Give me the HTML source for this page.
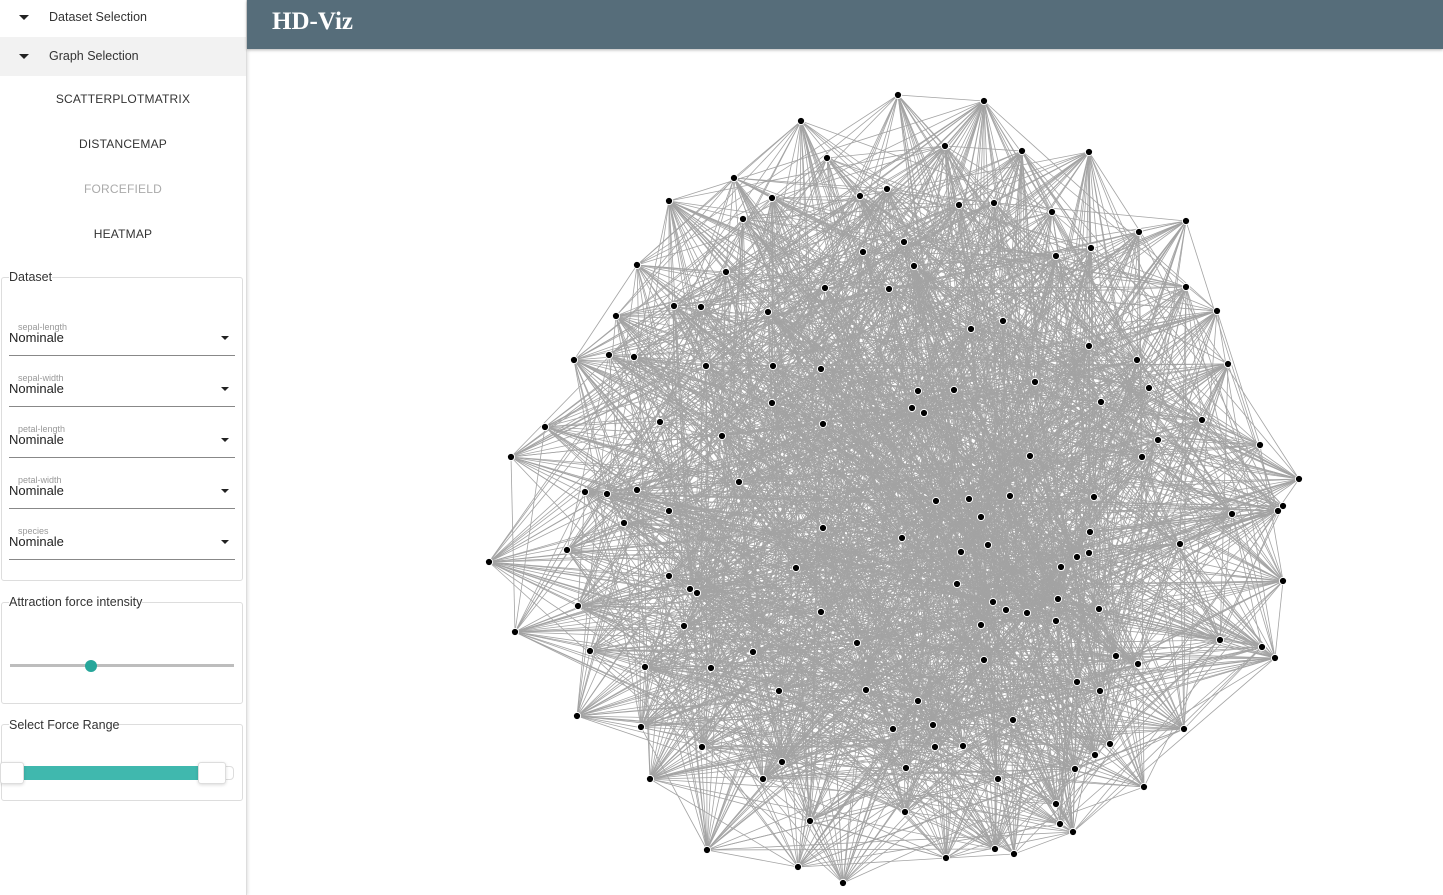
<!DOCTYPE html>
<html><head><meta charset="utf-8"><title>HD-Viz</title>
<style>
*{box-sizing:border-box}
body{margin:0;width:1443px;height:895px;overflow:hidden;font-family:"Liberation Sans",sans-serif;background:#fff;position:relative}
#sidebar{position:absolute;left:0;top:0;width:247px;height:895px;background:#fff;border-right:1px solid #ddd;box-shadow:1px 0 3px rgba(0,0,0,0.12)}
.acc{position:absolute;left:0;width:246px;height:39px;font-size:12.5px;color:#333;line-height:39px}
.acc .tri{position:absolute;left:19px;top:17px;width:0;height:0;border-left:5px solid transparent;border-right:5px solid transparent;border-top:5px solid #222}
.acc span{position:absolute;left:49px}
.nav{position:absolute;left:0;width:246px;text-align:center;font-size:12px;color:#333;letter-spacing:0.2px}
fieldset{position:absolute;left:1px;width:242px;border:1px solid #ddd;border-radius:3px;margin:0;padding:0}
.leg{position:absolute;left:9px;font-size:12.5px;color:#333;background:#fff}
.sel{position:absolute;left:9px;width:226px;height:51px;border-bottom:1px solid #888}
.sel .lab{position:absolute;left:9px;top:17px;font-size:9px;color:#999}
.sel .val{position:absolute;left:0;font-size:13px;color:#222}
.sel .arr{position:absolute;right:6px;width:0;height:0;border-left:4.5px solid transparent;border-right:4.5px solid transparent;border-top:4.5px solid #222}
#header{position:absolute;left:247px;top:0;width:1196px;height:49px;background:#566d7a;box-shadow:0 1px 3px rgba(0,0,0,0.3)}
#header h1{margin:0;position:absolute;left:25px;top:8px;font-family:"Liberation Serif","DejaVu Serif",serif;font-weight:bold;font-size:25px;color:#fff}
#graph{position:absolute;left:0;top:0}
</style></head><body>
<div id="sidebar">
  <div class="acc" style="top:-2px"><div class="tri"></div><span>Dataset Selection</span></div>
  <div class="acc" style="top:37px;background:#f2f2f2"><div class="tri"></div><span>Graph Selection</span></div>
  <div class="nav" style="top:92px">SCATTERPLOTMATRIX</div>
  <div class="nav" style="top:137px">DISTANCEMAP</div>
  <div class="nav" style="top:182px;color:#aaa">FORCEFIELD</div>
  <div class="nav" style="top:227px">HEATMAP</div>
  <fieldset style="top:277px;height:304px"></fieldset>
  <div class="leg" style="top:270px">Dataset</div>
  <div class="sel" style="top:305px"><div class="lab">sepal-length</div><div class="val" style="top:25px">Nominale</div><div class="arr" style="top:31px"></div></div>
  <div class="sel" style="top:356px"><div class="lab">sepal-width</div><div class="val" style="top:25px">Nominale</div><div class="arr" style="top:31px"></div></div>
  <div class="sel" style="top:407px"><div class="lab">petal-length</div><div class="val" style="top:25px">Nominale</div><div class="arr" style="top:31px"></div></div>
  <div class="sel" style="top:458px"><div class="lab">petal-width</div><div class="val" style="top:25px">Nominale</div><div class="arr" style="top:31px"></div></div>
  <div class="sel" style="top:509px"><div class="lab">species</div><div class="val" style="top:25px">Nominale</div><div class="arr" style="top:31px"></div></div>
  <fieldset style="top:602px;height:102px"></fieldset>
  <div class="leg" style="top:595px">Attraction force intensity</div>
  <div style="position:absolute;left:10px;top:664px;width:224px;height:3px;background:#bdbdbd"></div>
  <div style="position:absolute;left:85px;top:660px;width:12px;height:12px;border-radius:50%;background:#26a69a"></div>
  <fieldset style="top:724px;height:77px"></fieldset>
  <div class="leg" style="top:718px">Select Force Range</div>
  <div style="position:absolute;left:2px;top:766px;width:232px;height:14px;border:1px solid #ddd;border-radius:4px;background:#fff"></div>
  <div style="position:absolute;left:22px;top:766px;width:178px;height:14px;background:#40b8ae"></div>
  <div style="position:absolute;left:0;top:762px;width:24px;height:22px;border:1px solid #ddd;border-radius:3px;background:#fff;box-shadow:0 1px 3px rgba(0,0,0,.15)"></div>
  <div style="position:absolute;left:198px;top:762px;width:28px;height:22px;border:1px solid #ddd;border-radius:3px;background:#fff;box-shadow:0 1px 3px rgba(0,0,0,.15)"></div>
</div>
<div id="header"><h1>HD-Viz</h1></div>
<svg id="graph" width="1443" height="895"><g id="edges"></g><g id="nodes"></g></svg>
<script>
const nodeX=[898,984,801,945,1022,1089,827,734,887,860,772,669,959,994,1052,743,1186,1139,904,1091,863,1056,914,637,726,825,889,1186,674,701,768,616,1217,1003,971,1089,574,609,634,706,773,821,1137,1228,1035,918,954,1149,772,912,924,1101,545,660,722,823,1202,1158,1142,1260,511,1030,739,585,607,637,1094,1299,1283,1278,1232,936,969,1010,981,669,624,823,1090,902,988,567,961,1180,1089,1077,489,1061,796,669,690,697,957,1283,1058,578,993,1006,1027,821,1099,1056,981,684,515,1220,857,590,753,1262,1275,1116,1138,645,711,984,779,866,1077,1100,918,577,641,1013,933,893,1184,1110,702,935,963,1095,782,906,1075,650,763,998,1144,1056,905,810,1060,1073,707,995,1014,946,798,843];
const nodeY=[95,101,121,146,151,152,158,178,189,196,198,201,205,203,212,219,221,232,242,248,252,256,266,265,272,288,289,287,306,307,312,316,311,321,329,346,360,355,357,366,366,369,360,364,382,391,390,388,403,408,413,402,427,422,436,424,420,440,457,445,457,456,482,492,494,490,497,479,506,511,514,501,499,496,517,511,523,528,532,538,545,550,552,544,553,557,562,567,568,576,589,593,584,581,599,606,602,610,613,612,609,621,625,626,632,640,643,651,652,647,658,656,664,667,668,660,691,690,682,691,701,716,727,720,725,729,729,744,747,747,746,755,762,768,769,779,779,779,787,804,812,821,824,832,850,849,854,858,867,883];
const edgeDensity=20; // percent of node pairs linked
function linked(i,j){let h=(i*73856093)^(j*19349663);h=(h^(h>>>13))*1274126177;h=h^(h>>>16);return ((h>>>0)%100)<edgeDensity;}
const ns="http://www.w3.org/2000/svg";
const eg=document.getElementById('edges'),ng=document.getElementById('nodes');
const n=nodeX.length;
for(let i=0;i<n;i++)for(let j=i+1;j<n;j++){
  if(!linked(i,j))continue;
  const l=document.createElementNS(ns,'line');
  l.setAttribute('x1',nodeX[i]);l.setAttribute('y1',nodeY[i]);l.setAttribute('x2',nodeX[j]);l.setAttribute('y2',nodeY[j]);
  l.setAttribute('stroke','#a3a3a3');l.setAttribute('stroke-width','0.8');
  
  
  eg.appendChild(l);
}
for(let i=0;i<n;i++){
  const c=document.createElementNS(ns,'circle');
  c.setAttribute('cx',nodeX[i]);c.setAttribute('cy',nodeY[i]);c.setAttribute('r','3.6');
  c.setAttribute('fill','#000');c.setAttribute('stroke','#fff');c.setAttribute('stroke-width','1');
  
  
  ng.appendChild(c);
}
</script>
</body></html>
